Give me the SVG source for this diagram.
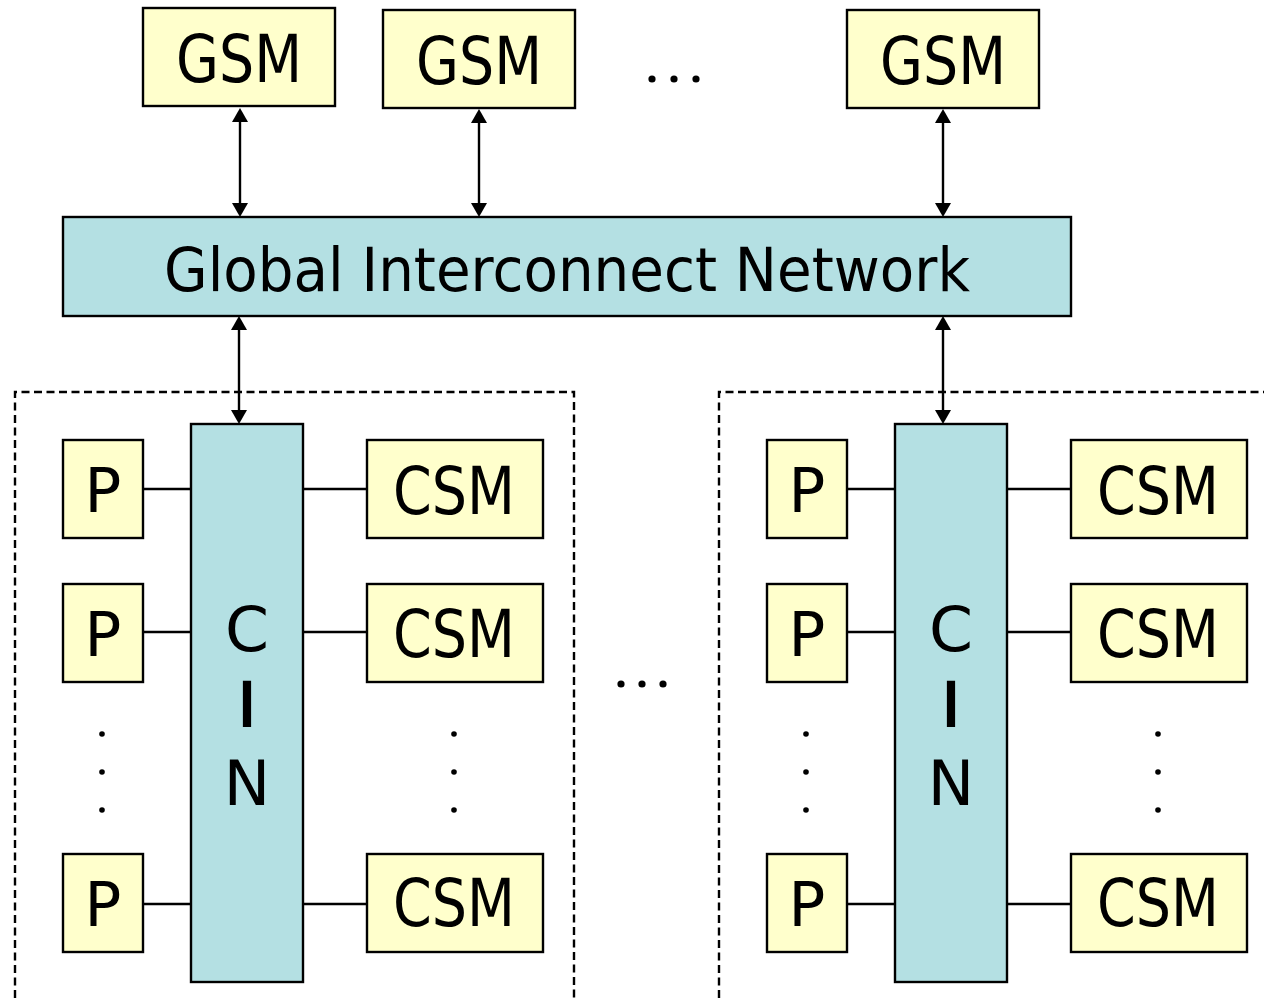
<svg xmlns="http://www.w3.org/2000/svg" width="1264" height="998" viewBox="0 0 1264 998">
  <defs>
    <!-- arrowheads: tip at origin, pointing up / down -->
    <path id="head-up" d="M0,0 L-8,14 L8,14 Z"/>
    <path id="head-down" d="M0,0 L-8,-14 L8,-14 Z"/>
    <style>
      .mem { fill: #FFFFCC; stroke: #000; stroke-width: 2.4; }
      .net { fill: #B4E0E3; stroke: #000; stroke-width: 2.4; }
      .lbl { font-family: "DejaVu Sans", Verdana, sans-serif; fill: #000; text-anchor: middle; }
      .big { font-size: 66px; }
      .mid { font-size: 61px; }
      .wire { stroke: #000; stroke-width: 2.6; fill: none; }
      .link { stroke: #000; stroke-width: 2.4; fill: none; }
      .frame { stroke: #000; stroke-width: 2.4; fill: none; stroke-dasharray: 8 4.5; }
      .dot { fill: #000; }
      .head { fill: #000; }
    </style>
  </defs>

  <!-- cluster frames -->
  <g id="clusters">
    <path class="frame" d="M15,998 V392 H574 V998"/>
    <path class="frame" d="M719,998 V392 H1264"/>
  </g>

  <!-- connectors -->
  <g id="connectors">
    <line class="link" x1="240" y1="115" x2="240" y2="210"/>
    <use class="head" href="#head-up" x="240" y="108"/>
    <use class="head" href="#head-down" x="240" y="217"/>
    <line class="link" x1="479" y1="115" x2="479" y2="210"/>
    <use class="head" href="#head-up" x="479" y="109"/>
    <use class="head" href="#head-down" x="479" y="217"/>
    <line class="link" x1="943" y1="115" x2="943" y2="210"/>
    <use class="head" href="#head-up" x="943" y="109"/>
    <use class="head" href="#head-down" x="943" y="217"/>
    <line class="link" x1="239" y1="323" x2="239" y2="417"/>
    <use class="head" href="#head-up" x="239" y="316"/>
    <use class="head" href="#head-down" x="239" y="424"/>
    <line class="link" x1="943" y1="323" x2="943" y2="417"/>
    <use class="head" href="#head-up" x="943" y="316"/>
    <use class="head" href="#head-down" x="943" y="424"/>
    <!-- left cluster links -->
    <line class="wire" x1="143" y1="489" x2="191" y2="489"/>
    <line class="wire" x1="143" y1="632" x2="191" y2="632"/>
    <line class="wire" x1="143" y1="904" x2="191" y2="904"/>
    <line class="wire" x1="303" y1="489" x2="367" y2="489"/>
    <line class="wire" x1="303" y1="632" x2="367" y2="632"/>
    <line class="wire" x1="303" y1="904" x2="367" y2="904"/>
    <!-- right cluster links -->
    <line class="wire" x1="847" y1="489" x2="895" y2="489"/>
    <line class="wire" x1="847" y1="632" x2="895" y2="632"/>
    <line class="wire" x1="847" y1="904" x2="895" y2="904"/>
    <line class="wire" x1="1007" y1="489" x2="1071" y2="489"/>
    <line class="wire" x1="1007" y1="632" x2="1071" y2="632"/>
    <line class="wire" x1="1007" y1="904" x2="1071" y2="904"/>
  </g>

  <!-- global shared memories -->
  <g id="gsm1">
    <rect class="mem" x="143" y="8" width="192" height="98"/>
    <text class="lbl big" x="239" y="82" textLength="126" lengthAdjust="spacingAndGlyphs">GSM</text>
  </g>
  <g id="gsm2">
    <rect class="mem" x="383" y="10" width="192" height="98"/>
    <text class="lbl big" x="479" y="84" textLength="126" lengthAdjust="spacingAndGlyphs">GSM</text>
  </g>
  <g id="gsm-more">
    <circle class="dot" cx="652" cy="79" r="3.6"/>
    <circle class="dot" cx="674" cy="79" r="3.6"/>
    <circle class="dot" cx="696" cy="79" r="3.6"/>
  </g>
  <g id="gsm3">
    <rect class="mem" x="847" y="10" width="192" height="98"/>
    <text class="lbl big" x="943" y="84" textLength="126" lengthAdjust="spacingAndGlyphs">GSM</text>
  </g>

  <!-- global network -->
  <g id="gin">
    <rect class="net" x="63" y="217" width="1008" height="99"/>
    <text class="lbl mid" x="567" y="291" textLength="806" lengthAdjust="spacingAndGlyphs">Global Interconnect Network</text>
  </g>

  <!-- left cluster -->
  <g id="cin-left">
    <rect class="net" x="191" y="424" width="112" height="558"/>
    <text class="lbl" font-size="63" x="247" y="651">C</text>
    <text class="lbl" font-size="61" x="247" y="726" stroke="#000" stroke-width="2.2">I</text>
    <text class="lbl" font-size="62" x="247" y="805">N</text>
  </g>
  <g id="p-left-1">
    <rect class="mem" x="63" y="440" width="80" height="98"/>
    <text class="lbl mid" x="103" y="512">P</text>
  </g>
  <g id="p-left-2">
    <rect class="mem" x="63" y="584" width="80" height="98"/>
    <text class="lbl mid" x="103" y="656">P</text>
  </g>
  <g id="p-left-dots">
    <circle class="dot" cx="102" cy="734" r="2.8"/>
    <circle class="dot" cx="102" cy="772" r="2.8"/>
    <circle class="dot" cx="102" cy="810" r="2.8"/>
  </g>
  <g id="p-left-n">
    <rect class="mem" x="63" y="854" width="80" height="98"/>
    <text class="lbl mid" x="103" y="926">P</text>
  </g>
  <g id="csm-left-1">
    <rect class="mem" x="367" y="440" width="176" height="98"/>
    <text class="lbl big" x="454" y="514" textLength="122" lengthAdjust="spacingAndGlyphs">CSM</text>
  </g>
  <g id="csm-left-2">
    <rect class="mem" x="367" y="584" width="176" height="98"/>
    <text class="lbl big" x="454" y="657" textLength="122" lengthAdjust="spacingAndGlyphs">CSM</text>
  </g>
  <g id="csm-left-dots">
    <circle class="dot" cx="454" cy="734" r="2.8"/>
    <circle class="dot" cx="454" cy="772" r="2.8"/>
    <circle class="dot" cx="454" cy="810" r="2.8"/>
  </g>
  <g id="csm-left-n">
    <rect class="mem" x="367" y="854" width="176" height="98"/>
    <text class="lbl big" x="454" y="926" textLength="122" lengthAdjust="spacingAndGlyphs">CSM</text>
  </g>

  <!-- more clusters -->
  <g id="cluster-more">
    <circle class="dot" cx="621" cy="684" r="3.6"/>
    <circle class="dot" cx="642" cy="684" r="3.6"/>
    <circle class="dot" cx="663" cy="684" r="3.6"/>
  </g>

  <!-- right cluster -->
  <g id="cin-right">
    <rect class="net" x="895" y="424" width="112" height="558"/>
    <text class="lbl" font-size="63" x="951" y="651">C</text>
    <text class="lbl" font-size="61" x="951" y="726" stroke="#000" stroke-width="2.2">I</text>
    <text class="lbl" font-size="62" x="951" y="805">N</text>
  </g>
  <g id="p-right-1">
    <rect class="mem" x="767" y="440" width="80" height="98"/>
    <text class="lbl mid" x="807" y="512">P</text>
  </g>
  <g id="p-right-2">
    <rect class="mem" x="767" y="584" width="80" height="98"/>
    <text class="lbl mid" x="807" y="656">P</text>
  </g>
  <g id="p-right-dots">
    <circle class="dot" cx="806" cy="734" r="2.8"/>
    <circle class="dot" cx="806" cy="772" r="2.8"/>
    <circle class="dot" cx="806" cy="810" r="2.8"/>
  </g>
  <g id="p-right-n">
    <rect class="mem" x="767" y="854" width="80" height="98"/>
    <text class="lbl mid" x="807" y="926">P</text>
  </g>
  <g id="csm-right-1">
    <rect class="mem" x="1071" y="440" width="176" height="98"/>
    <text class="lbl big" x="1158" y="514" textLength="122" lengthAdjust="spacingAndGlyphs">CSM</text>
  </g>
  <g id="csm-right-2">
    <rect class="mem" x="1071" y="584" width="176" height="98"/>
    <text class="lbl big" x="1158" y="657" textLength="122" lengthAdjust="spacingAndGlyphs">CSM</text>
  </g>
  <g id="csm-right-dots">
    <circle class="dot" cx="1158" cy="734" r="2.8"/>
    <circle class="dot" cx="1158" cy="772" r="2.8"/>
    <circle class="dot" cx="1158" cy="810" r="2.8"/>
  </g>
  <g id="csm-right-n">
    <rect class="mem" x="1071" y="854" width="176" height="98"/>
    <text class="lbl big" x="1158" y="926" textLength="122" lengthAdjust="spacingAndGlyphs">CSM</text>
  </g>
</svg>
